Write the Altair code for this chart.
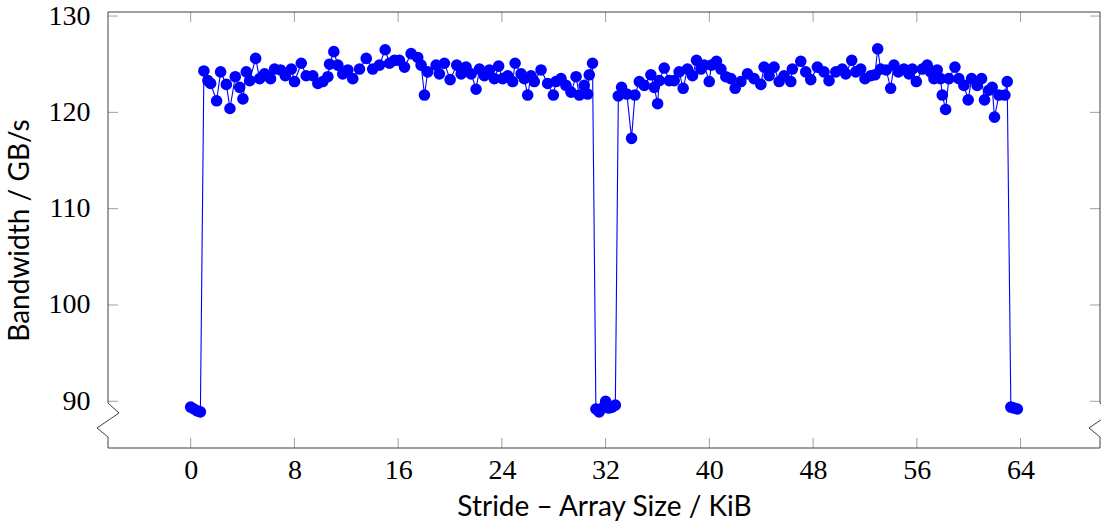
import altair as alt
import pandas as pd

# ---- data (stride in KiB, bandwidth in GB/s) ----
low_start_x = [0.0, 0.25, 0.5, 0.75]
low_start_y = [89.4, 89.2, 89.0, 88.9]

seg1_x = [1.02, 1.33, 1.54, 2.00, 2.31, 2.75, 3.03, 3.44, 3.78, 4.03,
          4.29, 4.55, 5.01, 5.32, 5.70, 6.16, 6.47, 6.93, 7.30, 7.76,
          8.01, 8.53, 8.91, 9.42, 9.81, 10.19, 10.58, 10.71, 11.04, 11.35,
          11.73, 12.12, 12.50, 13.02, 13.54, 14.04, 14.56, 15.00, 15.33, 15.72,
          16.10, 16.49, 17.00, 17.51, 17.77, 18.03, 18.28, 18.93, 19.18, 19.57,
          20.01, 20.52, 20.86, 21.24, 21.63, 22.01, 22.27, 22.65, 23.04, 23.42,
          23.75, 24.06, 24.45, 24.83, 25.02, 25.48, 25.73, 25.99, 26.25, 26.50,
          27.02, 27.53, 27.97, 28.17, 28.56, 28.94, 29.33, 29.72, 29.97, 30.35,
          30.61, 30.74, 30.99]
seg1_y = [124.3, 123.3, 123.0, 121.2, 124.2, 122.9, 120.4, 123.7, 122.6, 121.4,
          124.2, 123.3, 125.6, 123.5, 124.0, 123.5, 124.5, 124.4, 123.8, 124.5,
          123.2, 125.1, 123.8, 123.8, 123.0, 123.2, 123.7, 125.0, 126.3, 124.9,
          124.0, 124.4, 123.5, 124.5, 125.6, 124.5, 124.9, 126.5, 125.1, 125.4,
          125.4, 124.7, 126.1, 125.7, 124.9, 121.8, 124.2, 124.9, 124.0, 125.1,
          123.4, 124.9, 124.0, 124.7, 124.0, 122.4, 124.5, 123.8, 124.4, 123.5,
          124.8, 123.5, 123.8, 123.2, 125.1, 124.0, 123.5, 121.8, 123.8, 123.2,
          124.4, 123.0, 121.8, 123.2, 123.5, 122.8, 122.1, 123.7, 121.8, 122.8,
          121.9, 123.9, 125.1]

low_mid_x = [31.25, 31.5, 31.75, 32.0, 32.25, 32.5, 32.75]
low_mid_y = [89.2, 88.9, 89.3, 90.0, 89.3, 89.4, 89.6]

seg2_x = [32.98, 33.23, 33.64, 34.00, 34.26, 34.60, 34.98, 35.49, 35.75, 36.01,
          36.14, 36.52, 36.91, 37.29, 37.67, 37.98, 38.31, 38.70, 39.01, 39.35,
          39.60, 39.99, 40.16, 40.55, 40.89, 41.27, 41.66, 41.99, 42.43, 42.94,
          43.45, 43.97, 44.22, 44.61, 44.99, 45.38, 45.76, 46.28, 46.40, 47.05,
          47.43, 47.82, 48.33, 48.84, 49.23, 49.75, 50.25, 50.52, 50.98, 51.29,
          51.67, 52.00, 52.44, 52.77, 52.98, 53.21, 53.64, 53.98, 54.24, 54.57,
          55.01, 55.39, 55.65, 55.96, 56.42, 56.80, 57.06, 57.32, 57.57, 57.83,
          57.96, 58.22, 58.47, 58.94, 59.24, 59.63, 59.96, 60.22, 60.65, 60.99,
          61.22, 61.56, 61.81, 61.99, 62.33, 62.79, 62.97]
seg2_y = [121.7, 122.6, 121.9, 117.3, 121.8, 123.2, 122.8, 123.9, 122.6, 120.9,
          123.3, 124.6, 123.3, 123.3, 124.2, 122.5, 124.5, 123.8, 125.4, 124.5,
          124.9, 123.2, 124.9, 125.3, 124.5, 123.7, 123.5, 122.5, 123.2, 124.0,
          123.5, 122.9, 124.7, 123.8, 124.7, 123.2, 123.8, 123.2, 124.5, 125.3,
          124.2, 123.4, 124.7, 124.2, 123.3, 124.2, 124.5, 124.0, 125.4, 124.2,
          124.5, 123.5, 123.8, 123.9, 126.6, 124.5, 124.4, 122.5, 124.9, 124.2,
          124.5, 124.0, 124.5, 123.2, 124.5, 124.9, 124.2, 123.5, 124.4, 123.5,
          121.8, 120.3, 123.5, 124.7, 123.5, 122.8, 121.3, 123.5, 122.8, 123.5,
          121.3, 122.3, 122.6, 119.5, 121.8, 121.8, 123.2]

low_end_x = [63.25, 63.5, 63.75]
low_end_y = [89.4, 89.3, 89.2]

x_ticks = [0, 8, 16, 24, 32, 40, 48, 56, 64]
y_ticks = [90, 100, 110, 120, 130]

stride = low_start_x + seg1_x + low_mid_x + seg2_x + low_end_x
bandwidth = low_start_y + seg1_y + low_mid_y + seg2_y + low_end_y
assert len(stride) == len(bandwidth)

df = pd.DataFrame({"stride": stride, "bw": bandwidth})

# ---- layout ----
W, H = 992, 436
XDOM = [-6.375, 70.125]
YDOM = [85.15, 130.42]
SERIF = "Liberation Serif"
SANS = "Lato"
BLUE = "#0000ff"
TICK = "#a0a0a0"
FRAME = "#404040"

xs = alt.Scale(domain=XDOM, nice=False, zero=False)
ys = alt.Scale(domain=YDOM, nice=False, zero=False)

xaxis = alt.Axis(values=x_ticks, ticks=False, domain=False, grid=False,
                 labelFont=SERIF, labelFontSize=28, labelColor="black",
                 labelPadding=8, title="Stride – Array Size / KiB",
                 titleFont=SANS, titleFontSize=28, titleFontWeight="normal",
                 titleColor="black", titlePadding=9)
yaxis = alt.Axis(values=y_ticks, ticks=False, domain=False, grid=False,
                 labelFont=SERIF, labelFontSize=28, labelColor="black",
                 labelPadding=18, title="Bandwidth / GB/s",
                 titleFont=SANS, titleFontSize=28, titleFontWeight="normal",
                 titleColor="black", titlePadding=14)

X = lambda: alt.X("stride:Q", scale=xs, axis=xaxis)
Y = lambda: alt.Y("bw:Q", scale=ys, axis=yaxis)

xt = pd.DataFrame({"stride": x_ticks})
yt = pd.DataFrame({"bw": y_ticks})

layers = []
# inward ticks
layers.append(alt.Chart(xt).mark_rule(color=TICK, strokeWidth=1).encode(
    x=X(), y=alt.value(H), y2=alt.value(H - 10)))
layers.append(alt.Chart(xt).mark_rule(color=TICK, strokeWidth=1).encode(
    x=X(), y=alt.value(0), y2=alt.value(10)))
layers.append(alt.Chart(yt).mark_rule(color=TICK, strokeWidth=1).encode(
    y=Y(), x=alt.value(0), x2=alt.value(10)))
layers.append(alt.Chart(yt).mark_rule(color=TICK, strokeWidth=1).encode(
    y=Y(), x=alt.value(W - 10), x2=alt.value(W)))

# frame with axis-break zigzags on both sides
one = pd.DataFrame({"k": [0]})
b0, b1, b2, b3 = 391, 401, 416, 425
segs = [
    (0, 0, W, 0), (0, H, W, H),
    (0, 0, 0, b0), (0, b0, 11, b1), (11, b1, -11, b2), (-11, b2, 0, b3), (0, b3, 0, H),
    (W, 0, W, b0), (W, b0, W + 11, b1), (W + 11, b1, W - 11, b2), (W - 11, b2, W, b3), (W, b3, W, H),
]
for (a, b, c, d) in segs:
    layers.append(alt.Chart(one).mark_rule(color=FRAME, strokeWidth=1).encode(
        x=alt.value(a), y=alt.value(b), x2=alt.value(c), y2=alt.value(d)))

line = alt.Chart(df).mark_line(color=BLUE, strokeWidth=1.1).encode(x=X(), y=Y())
pts = alt.Chart(df).mark_circle(size=135, color=BLUE, opacity=1).encode(x=X(), y=Y())
layers += [line, pts]

chart = alt.layer(*layers).properties(
    width=W, height=H,
    padding={"left": 108, "top": 12, "right": 1, "bottom": 77},
    autosize=alt.AutoSizeParams(type="none"),
    background="white",
).configure_view(stroke=None)

chart.save("out.html", embed_options={"renderer": "svg", "actions": False})
